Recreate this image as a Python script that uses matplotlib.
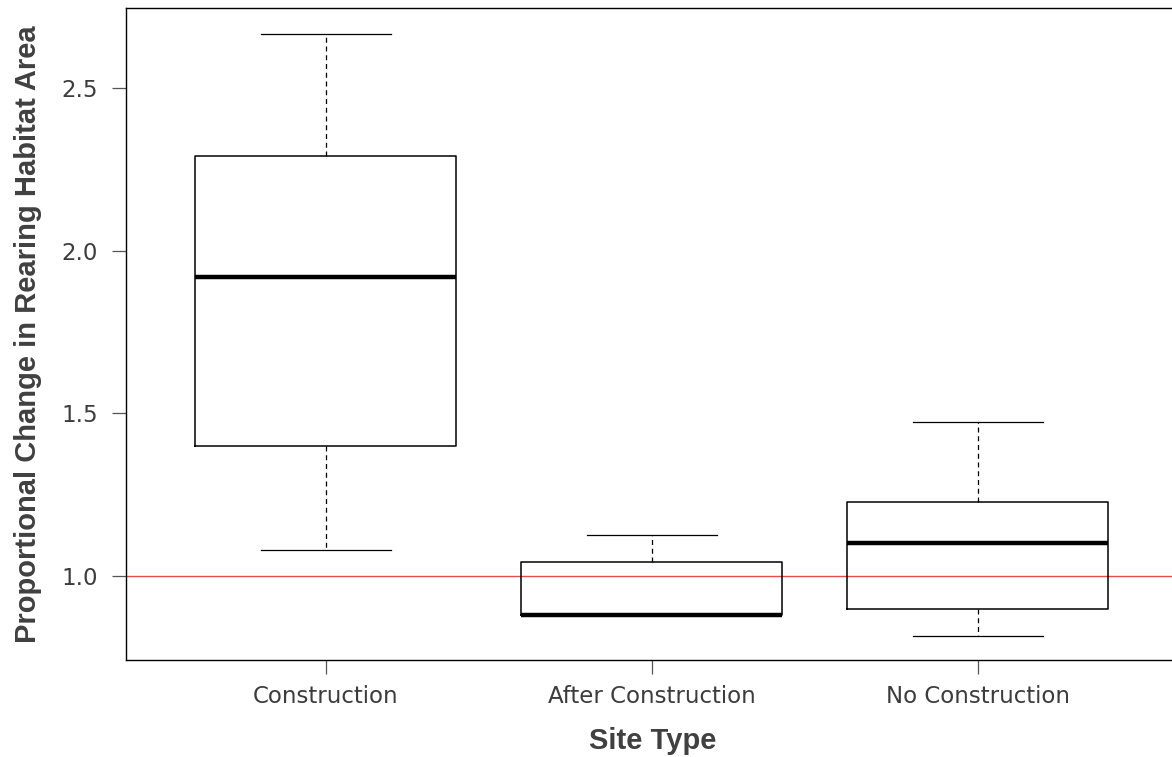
import matplotlib

matplotlib.use("Agg")
import matplotlib.pyplot as plt

# five-number summaries per site type (lower whisker, Q1, median, Q3, upper whisker)
site_types = ["Construction", "After Construction", "No Construction"]
whisker_low = [1.08, 0.88, 0.816]
q1 = [1.399, 0.88, 0.90]
median = [1.92, 0.88, 1.101]
q3 = [2.292, 1.043, 1.227]
whisker_high = [2.666, 1.126, 1.475]
y_ticks = [1.0, 1.5, 2.0, 2.5]
reference_level = 1.0

TICK_GREY = "#3c3c3c"
LABEL_GREY = "#404040"


def main() -> None:
    fig = plt.figure(figsize=(11.72, 7.57), dpi=100)
    ax = fig.add_axes([0.1075, 0.1281, 0.8993, 0.8613])

    stats = [
        {"whislo": lo, "q1": a, "med": m, "q3": b, "whishi": hi, "label": name}
        for lo, a, m, b, hi, name in zip(whisker_low, q1, median, q3, whisker_high, site_types)
    ]
    positions = list(range(1, len(site_types) + 1))
    ax.bxp(
        stats,
        positions=positions,
        widths=0.8,
        showfliers=False,
        patch_artist=False,
        boxprops=dict(color="black", linewidth=1.1),
        medianprops=dict(color="black", linewidth=3.2, solid_capstyle="butt"),
        whiskerprops=dict(color="black", linewidth=0.9, linestyle=(0, (4, 3))),
        capprops=dict(color="black", linewidth=0.9),
        capwidths=0.4,
    )

    ax.axhline(reference_level, color="#E8494A", linewidth=1.0, zorder=0.5)

    ax.set_xlim(0.387, 3.62)
    ax.set_ylim(0.742, 2.746)
    ax.set_yticks(y_ticks, [f"{t:.1f}" for t in y_ticks])
    ax.set_xticks(positions, site_types)

    for side in ("top", "left", "bottom"):
        ax.spines[side].set_color("black")
        ax.spines[side].set_linewidth(1.0)
    ax.spines["right"].set_visible(False)

    ax.tick_params(axis="both", direction="out", length=10, width=0.9, color="#555555",
                   labelcolor=TICK_GREY, labelsize=16.5, pad=10)
    ax.tick_params(axis="x", pad=8)
    for label in ax.get_xticklabels() + ax.get_yticklabels():
        label.set_fontfamily("DejaVu Sans")

    ax.set_xlabel("Site Type", fontsize=21, fontweight="bold", family="Liberation Sans",
                  color=LABEL_GREY, labelpad=14)
    ax.set_ylabel("Proportional Change in Rearing Habitat Area", fontsize=21, fontweight="bold",
                  family="Liberation Sans", color=LABEL_GREY, labelpad=14)

    fig.savefig("out.png", dpi=100, facecolor="white")
    plt.close(fig)


if __name__ == "__main__":
    main()
